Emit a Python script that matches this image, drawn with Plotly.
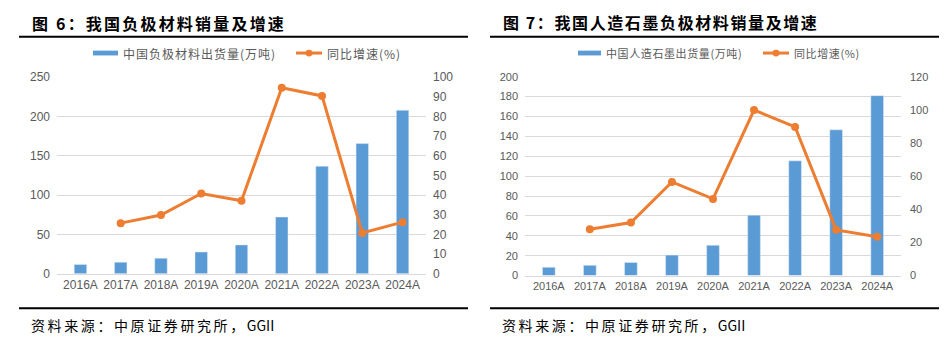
import plotly.graph_objects as go

W, H = 952, 344

years = ["2016A", "2017A", "2018A", "2019A", "2020A", "2021A", "2022A", "2023A", "2024A"]

# Figure 6: anode materials shipments (10k t) and YoY growth (%)
anode_ship = [11.8, 14.6, 19.7, 27.6, 36.6, 72.0, 136.6, 165.4, 207.7]
anode_yoy = [None, 25.7, 29.8, 40.8, 37.1, 94.5, 90.4, 20.7, 26.2]

# Figure 7: artificial graphite shipments (10k t) and YoY growth (%)
graphite_ship = [8.4, 10.3, 13.2, 20.6, 30.5, 60.8, 115.4, 146.6, 181.0]
graphite_yoy = [None, 28.0, 32.0, 56.5, 46.3, 99.9, 89.7, 27.6, 23.5]

title_left = "图 6：我国负极材料销量及增速"
title_right = "图 7：我国人造石墨负极材料销量及增速"
legend_bar_left = "中国负极材料出货量(万吨)"
legend_bar_right = "中国人造石墨出货量(万吨)"
legend_line = "同比增速(%)"
source_cn = "资料来源：中原证券研究所，"
source_en = "GGII"

BLUE = "#5B9BD5"
ORANGE = "#ED7D31"
GRID = "#D9D9D9"
TICK = "#595959"
TICKFONT = "Liberation Sans, Arial, sans-serif"
CJK = "Noto Sans CJK SC"


def px(x):
    return x / W


def py(y):
    return 1 - y / H


def spaced(txt, sp):
    return '<span style="letter-spacing:%spx">%s</span>' % (sp, txt)


fig = go.Figure()

fig.add_trace(go.Bar(x=years, y=anode_ship, marker_color=BLUE, xaxis="x", yaxis="y",
                     name=legend_bar_left, showlegend=False))
fig.add_trace(go.Scatter(x=years, y=anode_yoy, mode="lines+markers", xaxis="x", yaxis="y2",
                         line=dict(color=ORANGE, width=3), marker=dict(size=8, color=ORANGE),
                         name=legend_line, showlegend=False))
fig.add_trace(go.Bar(x=years, y=graphite_ship, marker_color=BLUE, xaxis="x2", yaxis="y3",
                     name=legend_bar_right, showlegend=False))
fig.add_trace(go.Scatter(x=years, y=graphite_yoy, mode="lines+markers", xaxis="x2", yaxis="y4",
                         line=dict(color=ORANGE, width=3), marker=dict(size=8, color=ORANGE),
                         name=legend_line, showlegend=False))

xcommon = dict(type="category", showgrid=False, showline=True, linecolor=GRID, linewidth=1,
               ticks="", zeroline=False, fixedrange=True)
ycommon = dict(showline=False, zeroline=False, ticks="", fixedrange=True)

fig.update_layout(
    width=W, height=H, autosize=False,
    margin=dict(l=0, r=0, t=0, b=0),
    paper_bgcolor="white", plot_bgcolor="white",
    bargap=0.69,
    showlegend=False,
    xaxis=dict(domain=[px(57), px(426)], anchor="y", tickfont=dict(family=TICKFONT, color=TICK, size=12), **xcommon),
    yaxis=dict(domain=[py(278), py(73)], range=[0, 250], dtick=50, anchor="x",
               showgrid=True, gridcolor=GRID, gridwidth=1, ticklabelstandoff=6,
               tickfont=dict(family=TICKFONT, color=TICK, size=12), **ycommon),
    yaxis2=dict(overlaying="y", side="right", anchor="x", range=[0, 100], dtick=10,
                showgrid=False, ticklabelstandoff=6,
                tickfont=dict(family=TICKFONT, color=TICK, size=12), **ycommon),
    xaxis2=dict(domain=[px(525), px(901)], anchor="y3", tickfont=dict(family=TICKFONT, color=TICK, size=11), **xcommon),
    yaxis3=dict(domain=[py(280), py(72.7)], range=[0, 200], dtick=20, anchor="x2",
                showgrid=True, gridcolor=GRID, gridwidth=1, ticklabelstandoff=6,
                tickfont=dict(family=TICKFONT, color=TICK, size=11), **ycommon),
    yaxis4=dict(overlaying="y3", side="right", anchor="x2", range=[0, 120], dtick=20,
                showgrid=False, ticklabelstandoff=8,
                tickfont=dict(family=TICKFONT, color=TICK, size=11), **ycommon),
)

shapes = []
annotations = []

# Title rules and source rules
for (x0, x1) in [(19, 468), (490, 939)]:
    shapes.append(dict(type="line", xref="paper", yref="paper", x0=px(x0), x1=px(x1),
                       y0=py(31), y1=py(31), line=dict(color="black", width=2)))
    shapes.append(dict(type="line", xref="paper", yref="paper", x0=px(x0), x1=px(x1),
                       y0=py(314), y1=py(314), line=dict(color="black", width=2)))

# Titles
annotations.append(dict(text="<b>" + spaced(title_left, 2.2) + "</b>", xref="paper", yref="paper",
                        x=px(30), y=py(17), xanchor="left", yanchor="middle", showarrow=False,
                        font=dict(family=CJK, size=16, color="black")))
annotations.append(dict(text="<b>" + spaced(title_right, 1.6) + "</b>", xref="paper", yref="paper",
                        x=px(501), y=py(16), xanchor="left", yanchor="middle", showarrow=False,
                        font=dict(family=CJK, size=16, color="black")))

# Sources
source_html = spaced(source_cn, 2.6) + source_en
annotations.append(dict(text=source_html, xref="paper", yref="paper",
                        x=px(29), y=py(331), xanchor="left", yanchor="middle", showarrow=False,
                        font=dict(family=CJK, size=14, color="black")))
annotations.append(dict(text=source_html, xref="paper", yref="paper",
                        x=px(500), y=py(331), xanchor="left", yanchor="middle", showarrow=False,
                        font=dict(family=CJK, size=14, color="black")))


# Custom legends
def add_legend(bx0, bx1, btxt, lx0, lx1, ltxt, y, size, sp):
    shapes.append(dict(type="rect", xref="paper", yref="paper", x0=px(bx0), x1=px(bx1),
                       y0=py(y + 2.5), y1=py(y - 2.5), fillcolor=BLUE, line=dict(width=0)))
    annotations.append(dict(text=spaced(btxt, sp), xref="paper", yref="paper", x=px(bx1 + 3), y=py(y),
                            xanchor="left", yanchor="middle", showarrow=False,
                            font=dict(family=CJK, size=size, color=TICK)))
    shapes.append(dict(type="line", xref="paper", yref="paper", x0=px(lx0), x1=px(lx1),
                       y0=py(y), y1=py(y), line=dict(color=ORANGE, width=3)))
    cx = (lx0 + lx1) / 2
    shapes.append(dict(type="circle", xref="paper", yref="paper", x0=px(cx - 3.5), x1=px(cx + 3.5),
                       y0=py(y + 3.5), y1=py(y - 3.5), fillcolor=ORANGE, line=dict(width=0)))
    annotations.append(dict(text=spaced(ltxt, sp), xref="paper", yref="paper", x=px(lx1 + 3), y=py(y),
                            xanchor="left", yanchor="middle", showarrow=False,
                            font=dict(family=CJK, size=size, color=TICK)))


add_legend(93, 118, legend_bar_left, 296, 322, legend_line, 48, 12, 1)
add_legend(578, 601, legend_bar_right, 763, 789, legend_line, 48, 11, 0.6)

fig.update_layout(shapes=shapes, annotations=annotations)

fig.write_html("out.html")
